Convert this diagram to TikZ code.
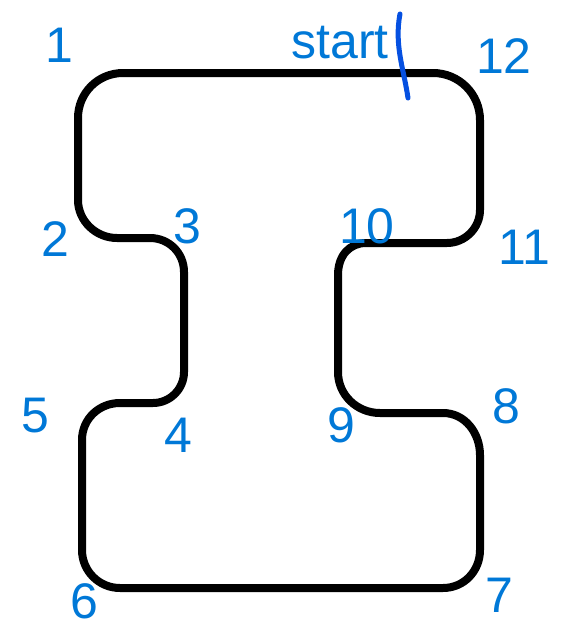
\documentclass[tikz,border=0pt]{standalone}
\usepackage{fontspec}
\setmainfont{Liberation Sans}
\definecolor{lblblue}{RGB}{0,120,215}
\definecolor{penblue}{RGB}{5,80,225}
\begin{document}
\begin{tikzpicture}[x=1pt,y=-1pt,
  lbl/.style={text=lblblue,anchor=base,inner sep=0pt,font=\fontsize{50}{60}\selectfont},
  track/.style={line width=8pt,line join=round,line cap=round,black},
  mark stroke/.style={line width=5pt,line cap=round,penblue}]
\useasboundingbox (0,0) rectangle (562,627);
\draw[track]
  (78,118) .. controls (78,93) and (98,73) .. (123,73)
  -- (433,73) .. controls (459,73) and (480,94) .. (480,120)
  -- (480,210) .. controls (480,228) and (465,243) .. (447,243)
  -- (366,243) .. controls (350,243) and (338,255) .. (338,275)
  -- (338,372) .. controls (338,395) and (357,413) .. (380,413)
  -- (443,413) .. controls (465,413) and (480,433) .. (480,455)
  -- (480,550) .. controls (480,571) and (464,588) .. (443,588)
  -- (120,588) .. controls (99,588) and (82,571) .. (82,550)
  -- (82,440) .. controls (82,419) and (99,403) .. (120,403)
  -- (153,403) .. controls (170,403) and (184,389) .. (184,372)
  -- (184,272) .. controls (184,253) and (169,238) .. (150,238)
  -- (117,238) .. controls (96,238) and (78,221) .. (78,200)
  -- cycle;
\coordinate (st1) at (400,14);
\coordinate (st2) at (408,98);
\draw[mark stroke] (st1) .. controls (394,45) and (404,70) .. (st2);
\node[lbl] (n1) at (59,62) {1};
\node[lbl] (nstart) at (340,58) {start};
\node[lbl] (n12) at (504,73) {12};
\node[lbl] (n2) at (55,256) {2};
\node[lbl] (n3) at (187,243) {3};
\node[lbl] (n10) at (367,243) {10};
\node[lbl] (n11) at (524,264) {11};
\node[lbl] (n5) at (35,432) {5};
\node[lbl] (n4) at (178,452) {4};
\node[lbl] (n9) at (341,442) {9};
\node[lbl] (n8) at (506,423) {8};
\node[lbl] (n6) at (84,618) {6};
\node[lbl] (n7) at (499,612) {7};
\end{tikzpicture}
\end{document}
